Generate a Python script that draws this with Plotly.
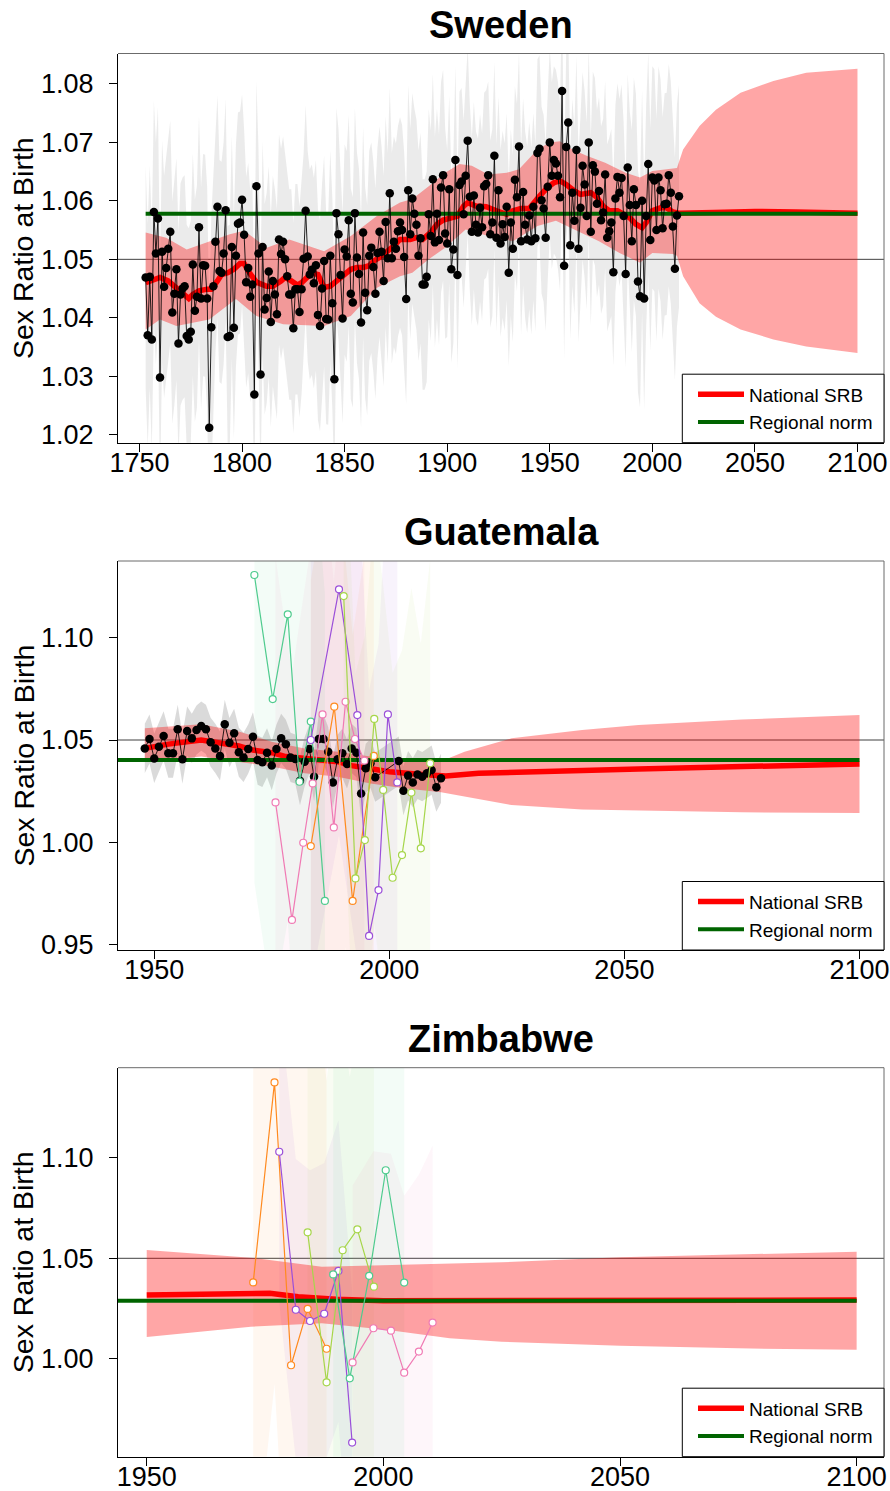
import plotly.graph_objects as go

W, H = 890, 1491
FONT = "Liberation Sans, Arial, Helvetica, sans-serif"

RED = "#FF0000"
RED_BAND = "rgba(255,0,0,0.35)"
GREEN = "#006400"

# ------------------------------------------------------------------ Sweden
swe_start_year = 1753
swe_obs = [
    1.0469, 1.0370, 1.0470, 1.0363, 1.0581, 1.0510, 1.0570, 1.0298, 1.0513,
    1.0453, 1.0485, 1.0518, 1.0547, 1.0409, 1.0441, 1.0483, 1.0356, 1.0440, 1.0450,
    1.0454, 1.0369, 1.0363, 1.0376, 1.0491, 1.0412, 1.0436, 1.0555, 1.0433, 1.0490,
    1.0489, 1.0433, 1.0212, 1.0384, 1.0454, 1.0530, 1.0590, 1.0480, 1.0477, 1.0510,
    1.0584, 1.0367, 1.0369, 1.0521, 1.0383, 1.0506, 1.0561, 1.0563, 1.0602, 1.0542,
    1.0461, 1.0485, 1.0436, 1.0457, 1.0269, 1.0625, 1.0510, 1.0303, 1.0521, 1.0414,
    1.0434, 1.0479, 1.0393, 1.0463, 1.0440, 1.0406, 1.0534, 1.0509, 1.0530, 1.0500,
    1.0471, 1.0440, 1.0440, 1.0382, 1.0449, 1.0449, 1.0410, 1.0449, 1.0501, 1.0583,
    1.0505, 1.0474, 1.0482, 1.0459, 1.0490, 1.0405, 1.0386, 1.0450, 1.0497, 1.0398,
    1.0397, 1.0506, 1.0425, 1.0295, 1.0579, 1.0543, 1.0473, 1.0399, 1.0517, 1.0505,
    1.0567, 1.0441, 1.0426, 1.0579, 1.0503, 1.0475, 1.0392, 1.0546, 1.0443, 1.0413,
    1.0506, 1.0520, 1.0487, 1.0441, 1.0511, 1.0547, 1.0513, 1.0463, 1.0564, 1.0502,
    1.0613, 1.0502, 1.0530, 1.0518, 1.0548, 1.0563,
    1.0550, 1.0504, 1.0432, 1.0618, 1.0543, 1.0604, 1.0578, 1.0559, 1.0506, 1.0536,
    1.0457, 1.0457, 1.0470, 1.0577, 1.0540, 1.0637, 1.0529, 1.0578, 1.0533, 1.0623,
    1.0644, 1.0544, 1.0527, 1.0620, 1.0483, 1.0517, 1.0670, 1.0473, 1.0627, 1.0633,
    1.0577, 1.0643, 1.0703, 1.0607, 1.0547, 1.0609, 1.0559, 1.0546, 1.0588, 1.0555,
    1.0625, 1.0629, 1.0644, 1.0543, 1.0563, 1.0677, 1.0537, 1.0618, 1.0527, 1.0560,
    1.0538, 1.0590, 1.0477, 1.0563, 1.0518, 1.0636, 1.0606, 1.0693, 1.0531, 1.0615,
    1.0559, 1.0534, 1.0575, 1.0531, 1.0590, 1.0536, 1.0682, 1.0689, 1.0601, 1.0587,
    1.0537, 1.0624, 1.0700, 1.0643, 1.0670, 1.0664, 1.0643, 1.0606, 1.0788, 1.0489,
    1.0692, 1.0734, 1.0524, 1.0614, 1.0566, 1.0687, 1.0518, 1.0588, 1.0660, 1.0628,
    1.0574, 1.0700, 1.0547, 1.0661, 1.0650, 1.0595, 1.0617, 1.0567, 1.0580, 1.0645,
    1.0537, 1.0548, 1.0563, 1.0478, 1.0604, 1.0641, 1.0614, 1.0639, 1.0574, 1.0475,
    1.0657, 1.0593, 1.0531, 1.0620, 1.0593, 1.0462, 1.0437, 1.0600, 1.0433, 1.0574,
    1.0663, 1.0533, 1.0640, 1.0635, 1.0550, 1.0640, 1.0618, 1.0553, 1.0594, 1.0595,
    1.0644, 1.0614, 1.0556, 1.0484, 1.0575, 1.0608,
]
swe_years = list(range(swe_start_year, swe_start_year + len(swe_obs)))
# half-width of the grey observation band, by era (era start year, half-width)
swe_hw_from = [1753, 1800, 1900, 1990]
swe_hw = [0.019, 0.018, 0.016, 0.019]

swe_med_years = [
    1753, 1760, 1764, 1768, 1771, 1774, 1776, 1779, 1783, 1785,
    1788, 1790, 1793, 1796, 1799, 1801, 1803, 1807, 1812, 1815,
    1819, 1821, 1824, 1827, 1829, 1832, 1834, 1837, 1840, 1843,
    1846, 1849, 1853, 1856, 1859, 1862, 1864, 1867, 1871, 1874,
    1877, 1882, 1885, 1888, 1892, 1895, 1898, 1901, 1905, 1908,
    1910, 1914, 1919, 1924, 1929, 1932, 1936, 1940, 1942, 1945,
    1949, 1952, 1955, 1958, 1962, 1965, 1970, 1973, 1976, 1979,
    1983, 1986, 1989, 1992, 1995, 1997, 2000, 2004, 2007, 2010,
    2013, 2030, 2050, 2070, 2100,
]
swe_med = [
    1.0460, 1.0469, 1.0463, 1.0452, 1.0443, 1.0433, 1.0440, 1.0446, 1.0449, 1.0449,
    1.0463, 1.0474, 1.0477, 1.0483, 1.0493, 1.0493, 1.0480, 1.0461, 1.0454, 1.0454,
    1.0463, 1.0469, 1.0463, 1.0456, 1.0460, 1.0469, 1.0477, 1.0474, 1.0452, 1.0454,
    1.0463, 1.0471, 1.0483, 1.0486, 1.0486, 1.0489, 1.0497, 1.0503, 1.0513, 1.0523,
    1.0534, 1.0534, 1.0537, 1.0534, 1.0546, 1.0560, 1.0567, 1.0570, 1.0574, 1.0591,
    1.0597, 1.0591, 1.0590, 1.0583, 1.0577, 1.0583, 1.0587, 1.0587, 1.0597, 1.0608,
    1.0623, 1.0631, 1.0634, 1.0628, 1.0617, 1.0611, 1.0614, 1.0606, 1.0591, 1.0583,
    1.0583, 1.0577, 1.0571, 1.0560, 1.0554, 1.0563, 1.0583, 1.0588, 1.0588, 1.0581,
    1.0579, 1.0580, 1.0582, 1.0581, 1.0579,
]
swe_up_years = [
    1753, 1763, 1773, 1784, 1794, 1801, 1812, 1823, 1840, 1853,
    1866, 1877, 1883, 1891, 1899, 1906, 1912, 1920, 1929, 1935,
    1944, 1950, 1955, 1961, 1968, 1977, 1987, 1994, 2000, 2007,
    2012, 2015, 2020, 2023, 2031, 2043, 2059, 2075, 2100,
]
swe_up = [
    1.0546, 1.0537, 1.0517, 1.0531, 1.0543, 1.0549, 1.0520, 1.0534, 1.0514, 1.0540,
    1.0575, 1.0597, 1.0603, 1.0625, 1.0648, 1.0663, 1.0660, 1.0645, 1.0648, 1.0654,
    1.0688, 1.0700, 1.0702, 1.0688, 1.0677, 1.0665, 1.0648, 1.0640, 1.0651, 1.0654,
    1.0656, 1.0688, 1.0713, 1.0728, 1.0756, 1.0785, 1.0805, 1.0819, 1.0826,
]
swe_lo_years = [
    1753, 1760, 1768, 1784, 1797, 1807, 1820, 1840, 1853, 1866,
    1877, 1883, 1891, 1899, 1909, 1920, 1932, 1944, 1953, 1965,
    1974, 1984, 1994, 2000, 2010, 2012, 2015, 2020, 2023, 2031,
    2043, 2059, 2075, 2100,
]
swe_lo = [
    1.0380, 1.0397, 1.0386, 1.0397, 1.0432, 1.0403, 1.0389, 1.0386, 1.0403, 1.0452,
    1.0471, 1.0477, 1.0500, 1.0520, 1.0551, 1.0540, 1.0531, 1.0557, 1.0566, 1.0546,
    1.0531, 1.0511, 1.0494, 1.0511, 1.0509, 1.0506, 1.0471, 1.0443, 1.0425, 1.0402,
    1.0380, 1.0363, 1.0351, 1.0340,
]
swe_norm = 1.0578
swe_norm_years = [1753, 2100]
swe_xticks = [1750, 1800, 1850, 1900, 1950, 2000, 2050, 2100]
swe_yticks = [1.02, 1.03, 1.04, 1.05, 1.06, 1.07, 1.08]

# --------------------------------------------------------------- Guatemala
gtm_vr_years = list(range(1948, 1998)) + list(range(2002, 2012))
gtm_vr = [
    1.0459, 1.0505, 1.0410, 1.0467, 1.0520, 1.0435, 1.0435, 1.0552, 1.0406, 1.0544,
    1.0508, 1.0549, 1.0568, 1.0552, 1.0489, 1.0459, 1.0422, 1.0577, 1.0487, 1.0533,
    1.0440, 1.0415, 1.0456, 1.0516, 1.0402, 1.0391, 1.0438, 1.0375, 1.0456, 1.0508,
    1.0479, 1.0415, 1.0407, 1.0301, 1.0394, 1.0456, 1.0321, 1.0505, 1.0505, 1.0443,
    1.0292, 1.0406, 1.0435, 1.0383, 1.0459, 1.0438, 1.0239, 1.0362, 1.0386, 1.0318,
    1.0397, 1.0252, 1.0326, 1.0292, 1.0332, 1.0321, 1.0337, 1.0353, 1.0269, 1.0313,
]
gtm_vr_hw = 0.012
gtm_med_years = [1948, 1953, 1960, 1964, 1968, 1971, 1975, 1978, 1985, 1989,
                 1992, 1997, 2000, 2007, 2012, 2019, 2034, 2053, 2075, 2100]
gtm_med = [1.0459, 1.0480, 1.0500, 1.0487, 1.0471, 1.0451, 1.0438, 1.0419, 1.0406, 1.0394,
           1.0375, 1.0353, 1.0345, 1.0332, 1.0324, 1.0337, 1.0349, 1.0358, 1.0370, 1.0383]
gtm_band_years = [1948, 1953, 1960, 1968, 1975, 1982, 1989, 1996, 2003, 2011,
                  2016, 2026, 2041, 2053, 2075, 2100]
gtm_up = [1.0557, 1.0565, 1.0577, 1.0541, 1.0492, 1.0459, 1.0443, 1.0419, 1.0402, 1.0396,
          1.0443, 1.0508, 1.0549, 1.0573, 1.0600, 1.0622]
gtm_lo = [1.0394, 1.0402, 1.0419, 1.0394, 1.0370, 1.0337, 1.0321, 1.0288, 1.0264, 1.0245,
          1.0223, 1.0182, 1.0161, 1.0155, 1.0147, 1.0143]
gtm_norm = 1.0402
gtm_norm_years = [1940, 2100]

gtm_green_years = [1971.3, 1975.2, 1978.4, 1980.9, 1983.3, 1986.3]
gtm_green = [1.1306, 1.0700, 1.1114, 1.0296, 1.0590, 0.9714]
gtm_pink_years = [1975.8, 1979.3, 1981.7, 1983.7, 1985.8, 1988.2, 1990.7, 1992.7, 1994.7]
gtm_pink = [1.0195, 0.9621, 0.9998, 1.0288, 1.0625, 1.0073, 1.0687, 1.0505, 1.0399]
gtm_orange_years = [1983.3, 1988.3, 1992.2, 1996.7]
gtm_orange = [0.9982, 1.0663, 0.9714, 1.0422]
gtm_purple_years = [1983.3, 1989.3, 1993.2, 1995.7, 1997.7, 1999.7, 2001.7]
gtm_purple = [1.0500, 1.1236, 1.0622, 0.9543, 0.9767, 1.0625, 1.0293]
gtm_lime_years = [1990.3, 1992.8, 1994.8, 1996.8, 1998.7, 2000.7, 2002.7, 2004.7, 2006.7, 2008.7]
gtm_lime = [1.1203, 0.9824, 1.0011, 1.0603, 1.0256, 0.9827, 0.9938, 1.0243, 0.9971, 1.0386]
gtm_series_hw = [0.15, 0.12, 0.13, 0.12, 0.10]
gtm_xticks = [1950, 2000, 2050, 2100]
gtm_yticks = [0.95, 1.00, 1.05, 1.10]

# ---------------------------------------------------------------- Zimbabwe
zwe_med_years = [1950, 1965, 1976, 1982, 1990, 2000, 2025, 2050, 2075, 2100]
zwe_med = [1.0317, 1.0322, 1.0326, 1.0309, 1.0296, 1.0289, 1.0290, 1.0289, 1.0291, 1.0292]
zwe_band_years = [1950, 1972, 1987, 2001, 2014, 2025, 2050, 2075, 2100]
zwe_up = [1.0541, 1.0503, 1.0458, 1.0467, 1.0472, 1.0480, 1.0505, 1.0520, 1.0533]
zwe_lo = [1.0108, 1.0160, 1.0177, 1.0143, 1.0102, 1.0085, 1.0065, 1.0052, 1.0045]
zwe_norm = 1.0289
zwe_norm_years = [1940, 2100]

zwe_orange_years = [1972.5, 1977.0, 1980.5, 1984.0, 1988.0]
zwe_orange = [1.0380, 1.1375, 0.9968, 1.0248, 1.0050]
zwe_purple_years = [1978.0, 1981.5, 1984.5, 1987.5, 1990.5, 1993.4]
zwe_purple = [1.1030, 1.0244, 1.0188, 1.0224, 1.0437, 0.9583]
zwe_lime_years = [1984.0, 1988.0, 1991.4, 1994.5, 1998.0]
zwe_lime = [1.0629, 0.9883, 1.0540, 1.0644, 1.0359]
zwe_green_years = [1989.4, 1992.9, 1997.0, 2000.5, 2004.4]
zwe_green = [1.0420, 0.9903, 1.0413, 1.0938, 1.0379]
zwe_pink_years = [1993.5, 1997.9, 2001.6, 2004.4, 2007.5, 2010.4]
zwe_pink = [0.9982, 1.0152, 1.0140, 0.9931, 1.0036, 1.0180]
zwe_series_hw = [0.15, 0.075, 0.15, 0.15, 0.088]
zwe_xticks = [1950, 2000, 2050, 2100]
zwe_yticks = [1.00, 1.05, 1.10]

REF_LEVEL = 1.05

# series colours
C_GREEN = "#4FCB8E"
C_PINK = "#F07AB4"
C_ORANGE = "#FF8A1F"
C_PURPLE = "#9B4FD9"
C_LIME = "#A6D64A"
SERIES_BAND_ALPHA = 0.065


def rgba(hexcol, a):
    h = hexcol.lstrip("#")
    r, g, b = int(h[0:2], 16), int(h[2:4], 16), int(h[4:6], 16)
    return f"rgba({r},{g},{b},{a})"


fig = go.Figure()


def band(xs_up, ys_up, xs_lo, ys_lo, color, xa, ya):
    fig.add_trace(go.Scatter(
        x=list(xs_up) + list(xs_lo)[::-1], y=list(ys_up) + list(ys_lo)[::-1],
        fill="toself", fillcolor=color, line=dict(width=0), mode="lines",
        hoverinfo="skip", showlegend=False, xaxis=xa, yaxis=ya))


def obs_band(years, vals, hws, color, xa, ya):
    up = [v + h for v, h in zip(vals, hws)]
    lo = [v - h for v, h in zip(vals, hws)]
    band(years, up, years, lo, color, xa, ya)


def med_norm(myears, med, nyears, norm, xa, ya, legend):
    fig.add_trace(go.Scatter(x=myears, y=med, mode="lines", name="National SRB",
                             line=dict(color=RED, width=5.5), xaxis=xa, yaxis=ya,
                             legend=legend, showlegend=True))
    fig.add_trace(go.Scatter(x=nyears, y=[norm] * len(nyears), mode="lines",
                             name="Regional norm", line=dict(color=GREEN, width=4),
                             xaxis=xa, yaxis=ya, legend=legend, showlegend=True))


def vr_points(years, vals, xa, ya):
    fig.add_trace(go.Scatter(x=years, y=vals, mode="lines+markers",
                             line=dict(color="rgba(0,0,0,0.85)", width=1),
                             marker=dict(color="black", size=8.5),
                             showlegend=False, hoverinfo="skip", xaxis=xa, yaxis=ya))


def series_points(years, vals, col, xa, ya):
    fig.add_trace(go.Scatter(x=years, y=vals, mode="lines+markers",
                             line=dict(color=col, width=1.2),
                             marker=dict(color="white", size=7, line=dict(color=col, width=1.2)),
                             showlegend=False, hoverinfo="skip", xaxis=xa, yaxis=ya))


# ---------------- Sweden panel
swe_hw_per_year = []
for yr in swe_years:
    h = swe_hw[0]
    for start, val in zip(swe_hw_from, swe_hw):
        if yr >= start:
            h = val
    swe_hw_per_year.append(h)
obs_band(swe_years, swe_obs, swe_hw_per_year, "rgba(190,190,190,0.30)", "x", "y")
band(swe_up_years, swe_up, swe_lo_years, swe_lo, RED_BAND, "x", "y")
med_norm(swe_med_years, swe_med, swe_norm_years, swe_norm, "x", "y", "legend")
vr_points(swe_years, swe_obs, "x", "y")

# ---------------- Guatemala panel
obs_band(gtm_vr_years, gtm_vr, [gtm_vr_hw] * len(gtm_vr), "rgba(140,140,140,0.32)", "x2", "y2")
gtm_series = [
    (gtm_green_years, gtm_green, C_GREEN),
    (gtm_pink_years, gtm_pink, C_PINK),
    (gtm_orange_years, gtm_orange, C_ORANGE),
    (gtm_purple_years, gtm_purple, C_PURPLE),
    (gtm_lime_years, gtm_lime, C_LIME),
]
for (yrs, vals, col), hw in zip(gtm_series, gtm_series_hw):
    obs_band(yrs, vals, [hw] * len(vals), rgba(col, SERIES_BAND_ALPHA), "x2", "y2")
band(gtm_band_years, gtm_up, gtm_band_years, gtm_lo, RED_BAND, "x2", "y2")
med_norm(gtm_med_years, gtm_med, gtm_norm_years, gtm_norm, "x2", "y2", "legend2")
vr_points(gtm_vr_years, gtm_vr, "x2", "y2")
for yrs, vals, col in gtm_series:
    series_points(yrs, vals, col, "x2", "y2")

# ---------------- Zimbabwe panel
zwe_series = [
    (zwe_orange_years, zwe_orange, C_ORANGE),
    (zwe_purple_years, zwe_purple, C_PURPLE),
    (zwe_lime_years, zwe_lime, C_LIME),
    (zwe_green_years, zwe_green, C_GREEN),
    (zwe_pink_years, zwe_pink, C_PINK),
]
for (yrs, vals, col), hw in zip(zwe_series, zwe_series_hw):
    obs_band(yrs, vals, [hw] * len(vals), rgba(col, SERIES_BAND_ALPHA), "x3", "y3")
band(zwe_band_years, zwe_up, zwe_band_years, zwe_lo, RED_BAND, "x3", "y3")
med_norm(zwe_med_years, zwe_med, zwe_norm_years, zwe_norm, "x3", "y3", "legend3")
for yrs, vals, col in zwe_series:
    series_points(yrs, vals, col, "x3", "y3")

# ---------------- layout
# plot areas in pixels (left, right, top, bottom)
panels = [
    dict(name="Sweden", box=(118, 884, 53.5, 442.7), xr=[1739.52, 2112.93], yr=[1.01864, 1.0852],
         xt=swe_xticks, yt=swe_yticks),
    dict(name="Guatemala", box=(118, 884, 561, 950), xr=[1942.30, 2105.21], yr=[0.94741, 1.13745],
         xt=gtm_xticks, yt=gtm_yticks),
    dict(name="Zimbabwe", box=(118, 884, 1067.7, 1456.7), xr=[1943.93, 2105.78], yr=[0.95129, 1.14483],
         xt=zwe_xticks, yt=zwe_yticks),
]

layout = dict(width=W, height=H, margin=dict(l=0, r=0, t=0, b=0, autoexpand=False),
              plot_bgcolor="white", paper_bgcolor="white",
              font=dict(family=FONT, color="black"))
shapes = []
annotations = []
for i, p in enumerate(panels):
    sfx = "" if i == 0 else str(i + 1)
    l, r, t, b = p["box"]
    xdom = [l / W, r / W]
    ydom = [1 - b / H, 1 - t / H]
    common = dict(showgrid=False, zeroline=False, showline=True, linecolor="black", linewidth=1,
                  ticks="outside", ticklen=8, tickwidth=1, tickcolor="black", automargin=False,
                  tickfont=dict(family=FONT, size=27, color="black"), fixedrange=True)
    layout["xaxis" + sfx] = dict(common, domain=xdom, range=p["xr"], anchor="y" + sfx,
                                 tickvals=p["xt"], ticktext=[str(v) for v in p["xt"]],
                                 ticklabelstandoff=-12)
    layout["yaxis" + sfx] = dict(common, domain=ydom, range=p["yr"], anchor="x" + sfx,
                                 tickvals=p["yt"], ticktext=[f"{v:.2f}" for v in p["yt"]],
                                 ticklabelstandoff=10)
    xref = "x" + sfx + " domain"
    yref = "y" + sfx + " domain"
    shapes.append(dict(type="line", xref=xref, yref="y" + sfx, x0=0, x1=1,
                       y0=REF_LEVEL, y1=REF_LEVEL, layer="below",
                       line=dict(color="rgba(0,0,0,0.75)", width=1)))
    shapes.append(dict(type="line", xref=xref, yref=yref, x0=0, x1=1, y0=1, y1=1,
                       line=dict(color="#6b6b6b", width=1)))
    shapes.append(dict(type="line", xref=xref, yref=yref, x0=1, x1=1, y0=0, y1=1,
                       line=dict(color="#6b6b6b", width=1)))
    # opaque legend box in the bottom-right corner of the plot area
    lg_l, lg_t = 682.3, b - 68.5
    shapes.append(dict(type="rect", xref="paper", yref="paper", x0=lg_l / W, x1=r / W,
                       y0=1 - b / H, y1=1 - lg_t / H, layer="above", fillcolor="white",
                       line=dict(color="black", width=1)))
    annotations.append(dict(text="<b>" + p["name"] + "</b>", xref="paper", yref="paper",
                            x=(l + r) / 2 / W, y=1 - (t - 29) / H, xanchor="center",
                            yanchor="middle", showarrow=False,
                            font=dict(family=FONT, size=38, color="black")))
    annotations.append(dict(text="Sex Ratio at Birth", xref="paper", yref="paper",
                            x=23 / W, y=1 - (t + b) / 2 / H, xanchor="center", yanchor="middle",
                            textangle=-90, showarrow=False,
                            font=dict(family=FONT, size=28.5, color="black")))
    layout["legend" + sfx] = dict(x=693 / W, xanchor="left", y=1 - (lg_t + b) / 2 / H,
                                  yanchor="middle", bgcolor="rgba(0,0,0,0)", borderwidth=0,
                                  font=dict(family=FONT, size=19, color="black"),
                                  itemwidth=46, traceorder="normal")

layout["shapes"] = shapes
layout["annotations"] = annotations
fig.update_layout(**layout)

fig.write_html("out.html", config={"displayModeBar": False},
               post_script="document.body.style.margin='0px';document.body.style.padding='0px';"
                           "document.documentElement.style.overflow='hidden';")
